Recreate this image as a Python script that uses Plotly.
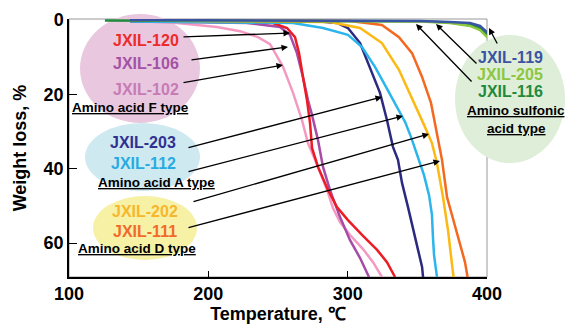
import plotly.graph_objects as go

# ---------------- data ----------------
t_102 = [143.8, 177.5, 206.2, 222.7, 235.6, 244.3, 253.6, 260.8, 267.2, 271.5, 276.6, 280.9, 285.2, 289.5, 294.5, 301.7, 311.0, 318.2, 324.6]
w_102 = [0.27, 0.8, 1.9, 3.0, 4.6, 6.5, 12.6, 19.6, 26.9, 33.1, 37.6, 41.7, 45.7, 50.6, 54.3, 57.8, 61.6, 65.1, 69.1]

t_106 = [143.8, 227.8, 251.4, 258.6, 263.6, 267.9, 271.5, 274.4, 278.7, 282.3, 287.3, 294.5, 301.7, 308.9, 315.3]
w_106 = [0.27, 0.8, 1.9, 4.0, 8.9, 15.3, 21.5, 25.5, 32.3, 39.5, 45.7, 53.0, 59.2, 64.0, 69.1]

t_120 = [143.8, 222.7, 246.4, 256.5, 262.2, 265.1, 267.9, 270.8, 273.0, 274.4, 278.7, 285.9, 292.3, 300.2, 310.3, 321.1, 328.2, 334.0]
w_120 = [0.4, 0.54, 0.8, 2.15, 4.6, 8.9, 15.3, 21.5, 27.7, 34.4, 39.5, 45.7, 50.3, 53.8, 57.8, 61.8, 65.1, 69.1]

t_203 = [143.8, 280.1, 292.3, 300.2, 308.9, 316.0, 323.2, 328.2, 332.5, 336.1, 339.0, 343.3, 346.9, 350.5, 353.4, 354.1]
w_203 = [0.27, 0.4, 0.8, 2.15, 6.2, 12.6, 19.6, 26.9, 34.1, 37.6, 43.8, 50.3, 55.7, 61.8, 66.4, 69.1]

t_112 = [143.8, 222.7, 260.8, 282.3, 300.2, 310.3, 319.6, 327.5, 335.4, 341.2, 345.5, 349.8, 354.8, 358.4, 360.5, 361.2, 362.0, 364.1]
w_112 = [0.4, 0.54, 0.8, 2.15, 4.0, 7.3, 12.6, 18.0, 23.4, 27.4, 31.5, 36.3, 41.7, 47.1, 52.4, 58.3, 63.2, 69.1]

t_202 = [143.8, 287.3, 308.9, 324.6, 336.8, 346.9, 354.8, 360.5, 364.1, 368.4, 372.0, 375.6, 376.3]
w_202 = [0.13, 0.54, 2.15, 6.2, 13.4, 21.5, 28.2, 33.1, 38.5, 47.6, 56.5, 68.0, 69.9]

t_111 = [143.8, 301.7, 324.6, 336.8, 346.2, 353.4, 359.8, 364.1, 367.7, 371.3, 378.5, 384.2, 386.4]
w_111 = [0.13, 0.27, 1.34, 4.6, 8.9, 15.3, 22.3, 30.9, 37.6, 47.6, 57.0, 65.1, 69.9]

t_116 = [125.8, 265.8, 351.9, 373.4, 387.8, 395.0, 400.7]
w_116 = [0.13, 0.2, 0.35, 0.67, 1.2, 2.15, 4.0]

t_205 = [143.8, 265.8, 351.9, 373.4, 387.8, 395.0, 400.7]
w_205 = [0.0, 0.13, 0.4, 0.8, 1.6, 2.7, 4.8]

t_119 = [143.8, 265.8, 351.9, 373.4, 387.8, 395.0, 400.7]
w_119 = [0.0, 0.08, 0.27, 0.54, 0.8, 1.6, 3.5]

x_ticks = [100, 200, 300, 400]
y_ticks = [0, 20, 40, 60]

series = [
    ("JXIL-102", t_102, w_102, "#f49ac2"),
    ("JXIL-106", t_106, w_106, "#a64ca6"),
    ("JXIL-120", t_120, w_120, "#ed1c24"),
    ("JXIL-203", t_203, w_203, "#2b2a80"),
    ("JXIL-112", t_112, w_112, "#2bb5ec"),
    ("JXIL-202", t_202, w_202, "#fdb913"),
    ("JXIL-111", t_111, w_111, "#f4681f"),
    ("JXIL-116", t_116, w_116, "#1e8a3c"),
    ("JXIL-205", t_205, w_205, "#8dc63f"),
    ("JXIL-119", t_119, w_119, "#3a54a4"),
]

# ---------------- layout helpers (pixel -> paper) ----------------
L, R, T, B = 69, 487, 19, 277
W_PX, H_PX = 565, 329


def px(x):
    return (x - L) / (R - L)


def py(y):
    return (B - y) / (B - T)


FONT = "Liberation Sans, Arial, sans-serif"

fig = go.Figure()
for name, t, w, c in series:
    fig.add_trace(go.Scatter(x=t, y=w, mode="lines", name=name,
                             line=dict(color=c, width=2.5),
                             showlegend=False, hoverinfo="skip"))

shapes = []
# plot frame (grey)
shapes.append(dict(type="rect", xref="paper", yref="paper", x0=0, x1=1, y0=0, y1=1,
                   line=dict(color="#999999", width=1), layer="below"))
# coloured ellipses
ellipses = [
    (80, 14, 200, 123, "#e9c8df"),
    (85, 123, 200, 191, "#cfe9f1"),
    (93, 196, 197, 260, "#f6f1a5"),
    (455, 35, 565, 163, "#dfeed9"),
]
for x0, y0, x1, y1, col in ellipses:
    shapes.append(dict(type="circle", xref="paper", yref="paper",
                       x0=px(x0), x1=px(x1), y0=py(y1), y1=py(y0),
                       fillcolor=col, line=dict(width=0), layer="below"))

annotations = []
labels = [
    ("JXIL-120", 146, 40, "#ee2a2a", 16),
    ("JXIL-106", 146, 64, "#a352a5", 16),
    ("JXIL-102", 146, 89, "#c77bb6", 16),
    ("<u>Amino acid F type</u>", 130, 108, "#000000", 13.5),
    ("JXIL-203", 143, 142, "#2e3192", 16),
    ("JXIL-112", 143, 163, "#29abe2", 16),
    ("<u>Amino acid A type</u>", 156, 182, "#000000", 13.5),
    ("JXIL-202", 145, 211, "#f8b62c", 16),
    ("JXIL-111", 145, 231, "#f26a2a", 16),
    ("<u>Amino acid D type</u>", 137, 248, "#000000", 13.5),
    ("JXIL-119", 510, 57, "#3a54a4", 16),
    ("JXIL-205", 510, 74, "#8dc63f", 16),
    ("JXIL-116", 510, 91, "#1f8a3d", 16),
    ("<u>Amino sulfonic</u>", 516, 111, "#000000", 13.5),
    ("<u>acid type</u>", 516, 128, "#000000", 13.5),
]
for txt, cx, cy, col, size in labels:
    annotations.append(dict(text="<b>" + txt + "</b>", x=px(cx), y=py(cy),
                            xref="paper", yref="paper", showarrow=False,
                            xanchor="center", yanchor="middle",
                            font=dict(family=FONT, size=size, color=col)))

arrows = [
    ((182, 37), (290, 33)),
    ((190, 60), (288, 47)),
    ((182, 83), (283, 65)),
    ((187, 148), (382, 97)),
    ((187, 172), (403, 116)),
    ((192, 202), (429, 134)),
    ((187, 228), (440, 161)),
    ((498, 45), (489, 28)),
    ((478, 65), (436, 24)),
    ((473, 83), (416, 24)),
]
for (tx, ty), (hx, hy) in arrows:
    annotations.append(dict(text="", x=px(hx), y=py(hy), xref="paper", yref="paper",
                            ax=tx - hx, ay=ty - hy, showarrow=True,
                            arrowhead=2, arrowsize=1.0, arrowwidth=1.3,
                            arrowcolor="#000000", standoff=0, startstandoff=0))

fig.update_layout(
    width=W_PX, height=H_PX,
    margin=dict(l=L, r=W_PX - R, t=T, b=H_PX - B, pad=0),
    paper_bgcolor="white", plot_bgcolor="white",
    shapes=shapes, annotations=annotations,
    xaxis=dict(range=[100, 400], tickvals=x_ticks, ticks="inside", ticklen=6,
               tickcolor="black", tickwidth=1, showline=True, linecolor="black",
               linewidth=1.5, showgrid=False, zeroline=False, automargin=False,
               tickfont=dict(family=FONT, size=18, color="black", weight="bold"),
               title=dict(text="Temperature, ℃", standoff=0,
                          font=dict(family=FONT, size=18, color="black", weight="bold"))),
    yaxis=dict(range=[69.1, -0.27], tickvals=y_ticks, ticks="inside", ticklen=8,
               tickcolor="black", tickwidth=1, showline=True, linecolor="black",
               linewidth=1.5, showgrid=False, zeroline=False, automargin=False,
               tickfont=dict(family=FONT, size=18, color="black", weight="bold"),
               title=dict(text="Weight loss, %", standoff=12,
                          font=dict(family=FONT, size=18, color="black", weight="bold"))),
)

fig.write_html("out.html")
